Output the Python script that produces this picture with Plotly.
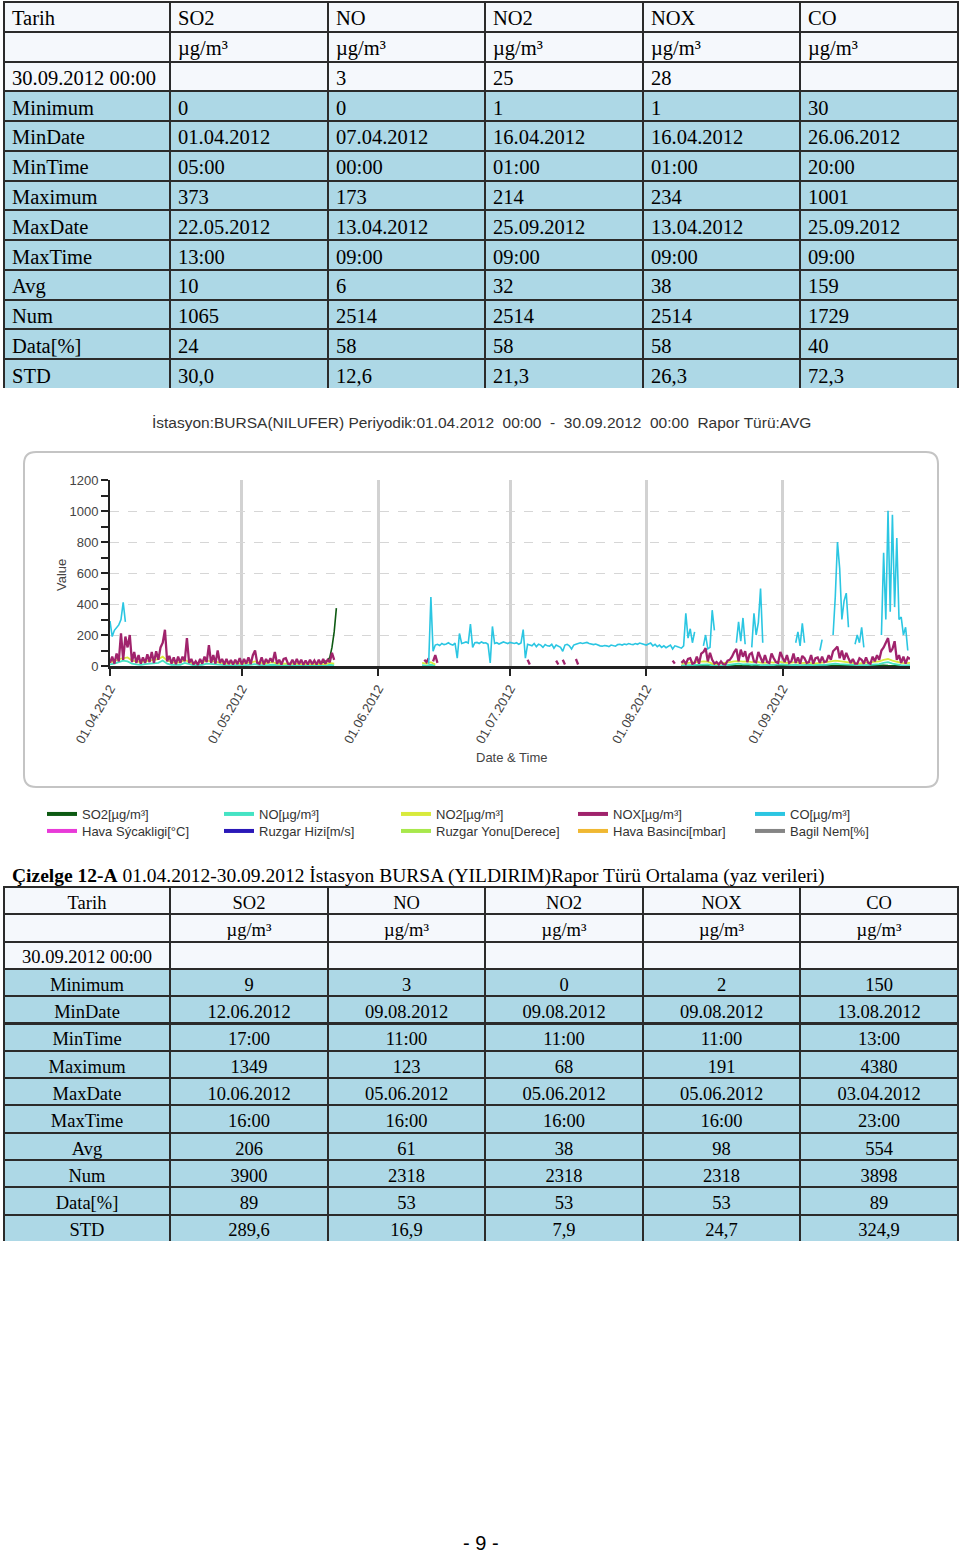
import pandas as pd
import plotly.graph_objects as go

W, H = 960, 1554


def X(px):
    return px / W


def Y(py):
    return 1 - py / H


# ---------------- table data ----------------
COLS = ["Tarih", "SO2", "NO", "NO2", "NOX", "CO"]
UNIT = "µg/m³"
ROW_LABELS = ["", "30.09.2012 00:00", "Minimum", "MinDate", "MinTime", "Maximum",
              "MaxDate", "MaxTime", "Avg", "Num", "Data[%]", "STD"]

T1_SO2 = [UNIT, "", "0", "01.04.2012", "05:00", "373", "22.05.2012", "13:00", "10", "1065", "24", "30,0"]
T1_NO = [UNIT, "3", "0", "07.04.2012", "00:00", "173", "13.04.2012", "09:00", "6", "2514", "58", "12,6"]
T1_NO2 = [UNIT, "25", "1", "16.04.2012", "01:00", "214", "25.09.2012", "09:00", "32", "2514", "58", "21,3"]
T1_NOX = [UNIT, "28", "1", "16.04.2012", "01:00", "234", "13.04.2012", "09:00", "38", "2514", "58", "26,3"]
T1_CO = [UNIT, "", "30", "26.06.2012", "20:00", "1001", "25.09.2012", "09:00", "159", "1729", "40", "72,3"]

T2_SO2 = [UNIT, "", "9", "12.06.2012", "17:00", "1349", "10.06.2012", "16:00", "206", "3900", "89", "289,6"]
T2_NO = [UNIT, "", "3", "09.08.2012", "11:00", "123", "05.06.2012", "16:00", "61", "2318", "53", "16,9"]
T2_NO2 = [UNIT, "", "0", "09.08.2012", "11:00", "68", "05.06.2012", "16:00", "38", "2318", "53", "7,9"]
T2_NOX = [UNIT, "", "2", "09.08.2012", "11:00", "191", "05.06.2012", "16:00", "98", "2318", "53", "24,7"]
T2_CO = [UNIT, "", "150", "13.08.2012", "13:00", "4380", "03.04.2012", "23:00", "554", "3898", "89", "324,9"]

# ---------------- chart data (segments: start, step, values) ----------------
SO2_SEGS = [
    ("2012-05-18 12:00", "12h", [15, 20, 25, 28, 35, 55, 120, 220, 373]),
    ("2012-08-09 00:00", "1D", [3, 2, 4, 3, 2, 3, 5, 4, 3, 2, 3, 4, 3, 2, 3, 4, 5, 3, 2, 3,
                                 4, 3, 2, 3, 4, 3, 2, 3, 4, 5, 3, 2, 3, 4, 3, 2, 3, 4, 3, 2,
                                 3, 4, 3, 2, 3, 4, 5, 3, 2, 3, 4, 3, 2]),
]
NO_SEGS = [
    ("2012-04-01 00:00", "1D", [10, 15, 25, 35, 30, 15, 10, 8, 12, 15, 18, 20, 35, 15, 8, 6, 8, 20, 10, 5,
                                 6, 8, 15, 12, 10, 6, 5, 4, 6, 5, 4, 6, 8, 12, 6, 4, 6, 8, 4, 4,
                                 5, 4, 4, 3, 3, 4, 3, 4, 4, 3, 8, 5]),
    ("2012-06-11 00:00", "1D", [5, 3, 8, 2]),
    ("2012-08-09 00:00", "1D", [3, 4, 5, 6, 8, 12, 10, 4, 3, 3, 4, 8, 12, 15, 10, 12, 8, 10, 6, 5,
                                 8, 6, 10, 8, 5, 6, 8, 4, 5, 6, 3, 5, 6, 8, 12, 15, 12, 10, 6, 4,
                                 3, 4, 5, 6, 8, 12, 20, 25, 15, 8, 5, 4, 5]),
]
NO2_SEGS = [
    ("2012-04-01 00:00", "1D", [25, 30, 45, 50, 55, 35, 30, 25, 30, 35, 40, 45, 60, 35, 25, 22, 25, 40, 25, 15,
                                 20, 25, 35, 30, 30, 20, 18, 15, 20, 18, 15, 20, 22, 30, 20, 15, 20, 25, 15, 15,
                                 18, 15, 15, 12, 12, 15, 12, 15, 15, 12, 20, 15]),
    ("2012-06-11 00:00", "1D", [20, 15, 25, 10]),
    ("2012-08-09 00:00", "1D", [15, 18, 20, 22, 25, 30, 28, 15, 12, 15, 18, 25, 30, 32, 28, 30, 25, 28, 22, 20,
                                 25, 22, 28, 25, 20, 22, 25, 18, 20, 22, 15, 20, 22, 25, 30, 35, 32, 28, 20, 18,
                                 15, 18, 20, 22, 25, 30, 40, 45, 35, 25, 20, 18, 20]),
]
NOX_SEGS = [
    ("2012-04-01 00:00", "12h", [20, 60, 15, 80, 30, 210, 40, 190, 120, 200, 25, 90, 20, 70, 15, 55, 20, 75, 25, 90,
                                  20, 95, 40, 120, 150, 234, 30, 65, 15, 55, 12, 60, 20, 60, 30, 180, 20, 45, 10, 30,
                                  8, 45, 15, 60, 25, 135, 20, 70, 15, 100, 20, 45, 10, 45, 12, 38, 10, 40, 12, 50,
                                  10, 45, 15, 55, 12, 70, 100, 20, 15, 55, 10, 45, 20, 50, 25, 90, 15, 40, 10, 45,
                                  50, 15, 12, 40, 10, 45, 12, 40, 8, 35, 10, 40, 12, 35, 10, 40, 12, 45, 15, 40,
                                  25, 85, 40]),
    ("2012-06-11 12:00", "12h", [40, 25, 50]),
    ("2012-06-13 12:00", "12h", [30, 70, 20]),
    ("2012-07-05 00:00", "12h", [40, 10]),
    ("2012-07-11 12:00", "12h", [35, 10]),
    ("2012-07-13 00:00", "12h", [40, 10]),
    ("2012-07-16 00:00", "12h", [45, 10]),
    ("2012-08-07 00:00", "12h", [35, 15]),
    ("2012-08-09 00:00", "12h", [20, 35, 15, 45, 50, 15, 20, 60, 15, 80, 90, 115, 30, 85, 40, 15, 25, 10, 30, 12,
                                  10, 35, 40, 60, 90, 110, 30, 105, 60, 95, 25, 75, 85, 30, 25, 90, 55, 20, 70, 25,
                                  20, 80, 50, 25, 20, 90, 55, 25, 70, 20, 30, 80, 20, 55, 15, 65, 50, 20, 25, 70,
                                  15, 50, 55, 20, 60, 25, 30, 70, 40, 95, 110, 125, 50, 100, 40, 85, 50, 20, 45, 15,
                                  15, 50, 40, 15, 55, 20, 15, 60, 30, 70, 40, 100, 120, 150, 180, 90, 110, 160, 40, 70,
                                  20, 60, 15, 55, 45]),
]
CO_SEGS = [
    ("2012-04-01 00:00", "12h", [290, 190, 230, 250, 265, 300, 410, 285]),
    ("2012-06-12 12:00", "12h", [15, 445, 95, 135, 140, 132, 145, 138, 142, 150, 140, 135, 148, 50, 210, 145, 150, 155, 148,
                                  270, 120, 150, 152, 145, 155, 148, 150, 140, 20, 255, 145, 150, 142, 148, 155, 150, 145,
                                  152, 148, 145, 150, 140, 148, 235, 50, 140, 135, 130, 145, 125, 140, 135, 120, 138, 130,
                                  128, 140, 115, 135, 130, 120, 95, 135, 140, 130, 110, 135, 140, 145, 150, 145, 148, 152,
                                  145, 140, 138, 142, 135, 130, 128, 132, 130, 125, 135, 130, 128, 138, 140, 135, 142, 138,
                                  145, 140, 138, 145, 140, 148, 145, 140, 135, 142, 148, 130, 140, 125, 135, 120, 130, 118,
                                  125, 135, 110, 130, 125, 120, 115, 130, 340, 180, 240, 150, 220]),
    ("2012-08-14 00:00", "12h", [130, 200, 110, 120, 360, 230]),
    ("2012-08-21 12:00", "12h", [150, 285, 160, 310, 140]),
    ("2012-08-25 00:00", "12h", [120, 340, 200, 280, 500, 150]),
    ("2012-09-04 00:00", "12h", [150, 220, 130, 275, 150]),
    ("2012-09-09 12:00", "12h", [100, 170]),
    ("2012-09-12 12:00", "12h", [200, 445, 800, 630, 300, 420, 470, 250]),
    ("2012-09-17 12:00", "12h", [140, 200, 150, 250, 120]),
    ("2012-09-23 12:00", "12h", [200, 730, 300, 1001, 350, 975, 380, 825, 300, 315, 200, 250, 100]),
]

SERIES = [
    ("SO2[µg/m³]", SO2_SEGS, "#0d5a12", 1.6),
    ("NO[µg/m³]", NO_SEGS, "#45e3c4", 1.8),
    ("NO2[µg/m³]", NO2_SEGS, "#d8ea3c", 1.8),
    ("NOX[µg/m³]", NOX_SEGS, "#a0236c", 2.3),
    ("CO[µg/m³]", CO_SEGS, "#2bc6e2", 1.6),
]
LEGEND2 = [
    ("Hava Sýcakligi[°C]", "#e83ad8"),
    ("Ruzgar Hizi[m/s]", "#2a18b8"),
    ("Ruzgar Yonu[Derece]", "#a8e84c"),
    ("Hava Basinci[mbar]", "#f0b832"),
    ("Bagil Nem[%]", "#858585"),
]
MONTH_TICKS = ["2012-04-01", "2012-05-01", "2012-06-01", "2012-07-01", "2012-08-01", "2012-09-01"]
MONTH_LABELS = ["01.04.2012", "01.05.2012", "01.06.2012", "01.07.2012", "01.08.2012", "01.09.2012"]

TITLE = "İstasyon:BURSA(NILUFER) Periyodik:01.04.2012\u00a0 00:00\u00a0 -\u00a0 30.09.2012\u00a0 00:00\u00a0 Rapor Türü:AVG"
CAPTION = "<b>Çizelge 12-A</b> 01.04.2012-30.09.2012 İstasyon BURSA (YILDIRIM)Rapor Türü Ortalama (yaz verileri)"


def build(segs):
    xs, ys = [], []
    for start, step, vals in segs:
        idx = pd.date_range(start, periods=len(vals), freq=step)
        xs += [t.strftime("%Y-%m-%d %H:%M") for t in idx]
        ys += list(vals)
        xs.append(None)
        ys.append(None)
    return xs, ys


fig = go.Figure()

SANS = "Liberation Sans"
SERIF = "Liberation Serif"
WHITE_ROW = "#f5f8fc"
BLUE_ROW = "#add8e6"
BORDER = "#2b2b2b"
COLW = [166, 158, 157, 158, 157, 158]


def add_table(cols, y_top, y_bot, row_h, fsize, align):
    body = [ROW_LABELS] + cols
    fills = [[WHITE_ROW, WHITE_ROW] + [BLUE_ROW] * 10] * 6
    fig.add_trace(go.Table(
        domain=dict(x=[X(4), X(958)], y=[Y(y_bot), Y(y_top)]),
        columnwidth=COLW,
        header=dict(values=COLS, fill_color=WHITE_ROW, line=dict(color=BORDER, width=2),
                    align=align, height=row_h, font=dict(family=SERIF, size=fsize, color="black")),
        cells=dict(values=body, fill_color=fills, line=dict(color=BORDER, width=2),
                   align=align, height=row_h, font=dict(family=SERIF, size=fsize, color="black")),
    ))


add_table([T1_SO2, T1_NO, T1_NO2, T1_NOX, T1_CO], 2, 389, 29.77, 20.5, "left")
add_table([T2_SO2, T2_NO, T2_NO2, T2_NOX, T2_CO], 887, 1242, 27.3, 18.5, "center")

# data traces
for name, segs, color, lw in SERIES:
    xs, ys = build(segs)
    fig.add_trace(go.Scatter(x=xs, y=ys, mode="lines", line=dict(color=color, width=lw),
                             showlegend=False, hoverinfo="skip", name=name))
# legend entries
for name, segs, color, lw in SERIES:
    fig.add_trace(go.Scatter(x=[None], y=[None], mode="lines", line=dict(color=color, width=4),
                             name=name, legend="legend"))
for name, color in LEGEND2:
    fig.add_trace(go.Scatter(x=[None], y=[None], mode="lines", line=dict(color=color, width=4),
                             name=name, legend="legend2"))

legend_common = dict(orientation="h", xanchor="left", yanchor="middle", entrywidth=132,
                     font=dict(family=SANS, size=13, color="#333"), bgcolor="rgba(0,0,0,0)",
                     itemclick=False, itemdoubleclick=False)

# rounded frame around the chart
x0, x1, y0, y1, r = 24, 938, 452, 787, 12
path = (f"M {X(x0 + r)},{Y(y0)} L {X(x1 - r)},{Y(y0)} Q {X(x1)},{Y(y0)} {X(x1)},{Y(y0 + r)} "
        f"L {X(x1)},{Y(y1 - r)} Q {X(x1)},{Y(y1)} {X(x1 - r)},{Y(y1)} "
        f"L {X(x0 + r)},{Y(y1)} Q {X(x0)},{Y(y1)} {X(x0)},{Y(y1 - r)} "
        f"L {X(x0)},{Y(y0 + r)} Q {X(x0)},{Y(y0)} {X(x0 + r)},{Y(y0)} Z")

fig.update_layout(
    template="none",
    width=W, height=H, autosize=False,
    margin=dict(l=0, r=0, t=0, b=0, pad=0, autoexpand=False),
    paper_bgcolor="white", plot_bgcolor="white",
    legend=dict(x=X(42), y=Y(814), **legend_common),
    legend2=dict(x=X(42), y=Y(831), **legend_common),
    xaxis=dict(domain=[X(110), X(910)], type="date", range=["2012-04-01", "2012-09-30"],
               automargin=False,
               tickvals=MONTH_TICKS, ticktext=MONTH_LABELS, tickangle=-60,
               tickfont=dict(family=SANS, size=13, color="#444"),
               showline=True, linecolor="#222", linewidth=3,
               ticks="outside", ticklen=7, tickwidth=2, tickcolor="#222",
               showgrid=True, gridcolor="#d2d2d2", gridwidth=3, zeroline=False),
    yaxis=dict(domain=[Y(666), Y(480)], range=[0, 1200], tickvals=[0, 200, 400, 600, 800, 1000, 1200],
               automargin=False,
               tickfont=dict(family=SANS, size=13, color="#444"),
               showline=True, linecolor="#222", linewidth=2,
               ticks="outside", ticklen=7, tickwidth=2, tickcolor="#222",
               minor=dict(dtick=100, ticks="outside", ticklen=7, tickwidth=2, tickcolor="#222", showgrid=False),
               showgrid=True, gridcolor="#d6d6d6", gridwidth=1, griddash="dash", zeroline=False),
    shapes=[dict(type="path", path=path, xref="paper", yref="paper",
                 line=dict(color="#c4c4c4", width=2), fillcolor="rgba(0,0,0,0)")],
    annotations=[
        dict(text=TITLE, x=X(481), y=Y(422), xref="paper", yref="paper", showarrow=False,
             xanchor="center", yanchor="middle", font=dict(family=SANS, size=15.5, color="#333")),
        dict(text="Value", x=X(61), y=Y(575), xref="paper", yref="paper", showarrow=False, textangle=-90,
             xanchor="center", yanchor="middle", font=dict(family=SANS, size=13, color="#444")),
        dict(text="Date & Time", x=X(512), y=Y(757), xref="paper", yref="paper", showarrow=False,
             xanchor="center", yanchor="middle", font=dict(family=SANS, size=13, color="#444")),
        dict(text=CAPTION, x=X(10), y=Y(876), xref="paper", yref="paper", showarrow=False,
             xanchor="left", yanchor="middle", font=dict(family=SERIF, size=19.5, color="black")),
        dict(text="- 9 -", x=X(481), y=Y(1543), xref="paper", yref="paper", showarrow=False,
             xanchor="center", yanchor="middle", font=dict(family=SANS, size=20, color="black")),
    ],
)

# remove the page's default 8px body margin so the figure fills the window exactly
fig.write_html("out.html", config={"displayModeBar": False},
               post_script="document.body.style.margin='0px';")
